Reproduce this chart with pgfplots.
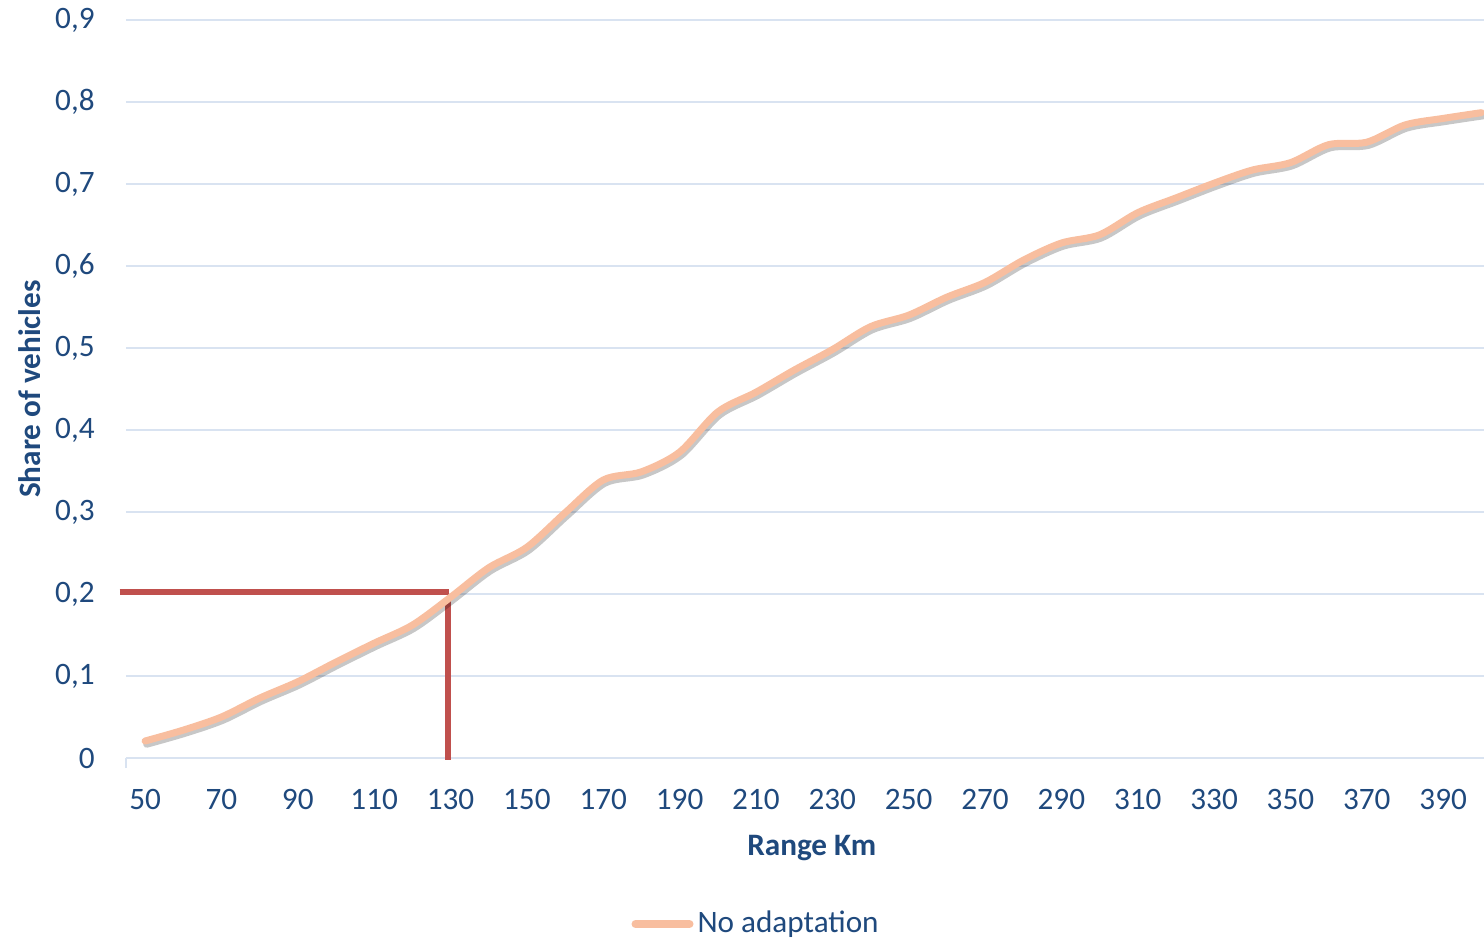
\documentclass[border=0pt]{standalone}
\usepackage{pgfplots}
\pgfplotsset{compat=1.18}
\usepackage{fontspec}
\setmainfont{Carlito}
\definecolor{txtblue}{HTML}{1F497D}
\definecolor{gridblue}{HTML}{D9E3F1}
\definecolor{peach}{HTML}{F8BE9F}
\definecolor{redline}{HTML}{C0504D}
\pgfplotstableread{
x y
50 0.0207
60 0.034
70 0.050
80 0.073
90 0.093
100 0.117
110 0.140
120 0.162
130 0.196
140 0.232
150 0.257
160 0.299
170 0.339
180 0.349
190 0.373
200 0.422
210 0.446
220 0.473
230 0.498
240 0.526
250 0.540
260 0.562
270 0.580
280 0.607
290 0.628
300 0.638
310 0.665
320 0.683
330 0.701
340 0.717
350 0.726
360 0.748
370 0.751
380 0.772
390 0.780
400 0.787
}\datatable
\begin{document}
\fontsize{15.6bp}{19bp}\selectfont
\begin{tikzpicture}
\begin{axis}[
  at={(0,0)}, anchor=south west,
  scale only axis,
  width=679bp, height=369bp,
  xmin=45, xmax=400.7,
  ymin=0, ymax=0.9,
  clip=false,
  axis line style={draw=none},
  xtick={50,70,...,390},
  ytick={0,0.1,...,0.9},
  xtick pos=bottom, ytick pos=left,
  major tick style={draw=none},
  ymajorgrids,
  grid style={draw=gridblue, line width=1bp},
  extra x ticks={45},
  extra x tick labels={},
  extra x tick style={grid=none, major tick length=5bp, tick align=outside, xtick pos=bottom,
    major tick style={draw=gridblue, line width=1bp}},
  /pgf/number format/assume math mode=true,
  yticklabel style={/pgf/number format/.cd, fixed, precision=1, use comma},
  tick label style={font=\fontsize{15.6bp}{19bp}\selectfont, text=txtblue},
  xticklabel shift=10.3bp,
  yticklabel shift=10.3bp,
  xlabel={\textbf{Range Km}},
  ylabel={\textbf{Share of vehicles}},
  label style={font=\fontsize{15.6bp}{19bp}\selectfont, text=txtblue},
  xlabel style={at={(axis description cs:0.505,-0.1222)}, anchor=center},
  ylabel style={at={(axis description cs:-0.0707,0.5)}, anchor=center},
  legend style={at={(axis description cs:0.4647,-0.2250)}, anchor=center,
    draw=none, fill=none, font=\fontsize{15.6bp}{19bp}\selectfont, text=txtblue,
    inner sep=0pt},
  legend cell align=left,
  legend image code/.code={\draw[#1, line width=4bp, line cap=round] (0bp,0bp) -- (27bp,0bp);},
]
\addplot[redline, line width=3bp, forget plot] coordinates {(43.3,0.2025) (129.5,0.2025)};
\addplot[redline, line width=3.2bp, forget plot] coordinates {(129.4,0.1925) (129.4,-0.003)};
\addplot[black, opacity=0.22, line width=3.5bp, smooth, line cap=round, forget plot,
  transform canvas={xshift=0.8bp, yshift=-1.6bp}] table[x=x,y=y] {\datatable};
\addplot[peach, line width=3.5bp, smooth, line cap=round] table[x=x,y=y] {\datatable};
\addlegendentry{No adaptation}
\end{axis}
\pgfresetboundingbox
\path (-63bp,-91.5bp) rectangle (679bp,379bp);
\end{tikzpicture}
\end{document}
